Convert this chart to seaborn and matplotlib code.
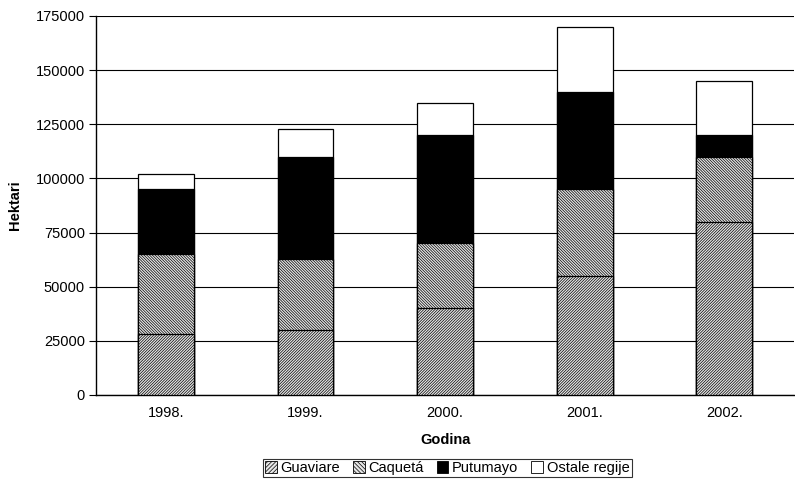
import matplotlib
matplotlib.use("Agg")
import matplotlib.pyplot as plt
import seaborn as sns
import numpy as np
from matplotlib.patches import Patch
from matplotlib.ticker import FixedLocator

years = ["1998.", "1999.", "2000.", "2001.", "2002."]
guaviare = [28000, 30000, 40000, 55000, 80000]
caqueta = [37000, 33000, 30000, 40000, 30000]
putumayo = [30000, 47000, 50000, 45000, 10000]
ostale = [7000, 13000, 15000, 30000, 25000]
series_names = ["Guaviare", "Caquetá", "Putumayo", "Ostale regije"]
yticks = [0, 25000, 50000, 75000, 100000, 125000, 150000, 175000]

sns.set_theme(style="white")
plt.rcParams["font.family"] = ["Liberation Sans", "DejaVu Sans"]
plt.rcParams["hatch.color"] = "black"
plt.rcParams["hatch.linewidth"] = 0.5
for k in ["text.color", "axes.labelcolor", "xtick.color", "ytick.color"]:
    plt.rcParams[k] = "black"

FS = 10.5
H_GUA = "/" * 12
H_CAQ = "\\" * 12
FILL = "#e6e6e6"

fig = plt.figure(figsize=(7.95, 4.84), dpi=100)
ax = fig.add_axes([0.1208, 0.1839, 0.8782, 0.7831])

c1 = np.array(guaviare)
c2 = c1 + np.array(caqueta)
c3 = c2 + np.array(putumayo)
c4 = c3 + np.array(ostale)

styles = [
    (c4, "white", ""),
    (c3, "black", ""),
    (c2, FILL, H_CAQ),
    (c1, FILL, H_GUA),
]
for tops, fc, hatch in styles:
    sns.barplot(x=years, y=tops, ax=ax, color=fc, width=0.4,
                edgecolor="black", linewidth=0.9, hatch=hatch, saturation=1,
                errorbar=None, zorder=3)

ax.set_xlim(-0.5, 4.5)
ax.set_ylim(0, 175000)
ax.set_yticks(yticks)
ax.set_yticklabels([str(v) for v in yticks])
ax.yaxis.grid(True, color="black", linewidth=0.8)
ax.set_axisbelow(True)
for s in ["top", "right"]:
    ax.spines[s].set_visible(False)
for s in ["left", "bottom"]:
    ax.spines[s].set_color("black")
    ax.spines[s].set_linewidth(1.0)

ax.xaxis.set_minor_locator(FixedLocator([0.5, 1.5, 2.5, 3.5]))
ax.tick_params(axis="x", which="major", length=0, labelsize=FS, pad=8)
ax.tick_params(axis="x", which="minor", length=4, width=0.8, color="black", direction="out")
ax.tick_params(axis="y", which="major", length=5, width=0.8, color="black", labelsize=FS,
               pad=3, left=True, direction="out")

ax.set_xlabel("Godina", fontsize=FS, fontweight="bold", labelpad=9)
ax.set_ylabel("Hektari", fontsize=FS, fontweight="bold", labelpad=10)

handles = [
    Patch(facecolor=FILL, edgecolor="black", hatch="/" * 8, linewidth=0.6),
    Patch(facecolor=FILL, edgecolor="black", hatch="\\" * 8, linewidth=0.6),
    Patch(facecolor="black", edgecolor="black", linewidth=0.6),
    Patch(facecolor="white", edgecolor="black", linewidth=0.6),
]
leg = fig.legend(handles, series_names, loc="center", bbox_to_anchor=(0.5625, 0.033),
                 ncol=4, frameon=True, fancybox=False, edgecolor="black",
                 fontsize=FS, handlelength=0.8, handleheight=0.8, handletextpad=0.25,
                 columnspacing=0.9, borderpad=0.15, borderaxespad=0)
leg.get_frame().set_linewidth(0.8)

fig.savefig("out.png", dpi=100)
